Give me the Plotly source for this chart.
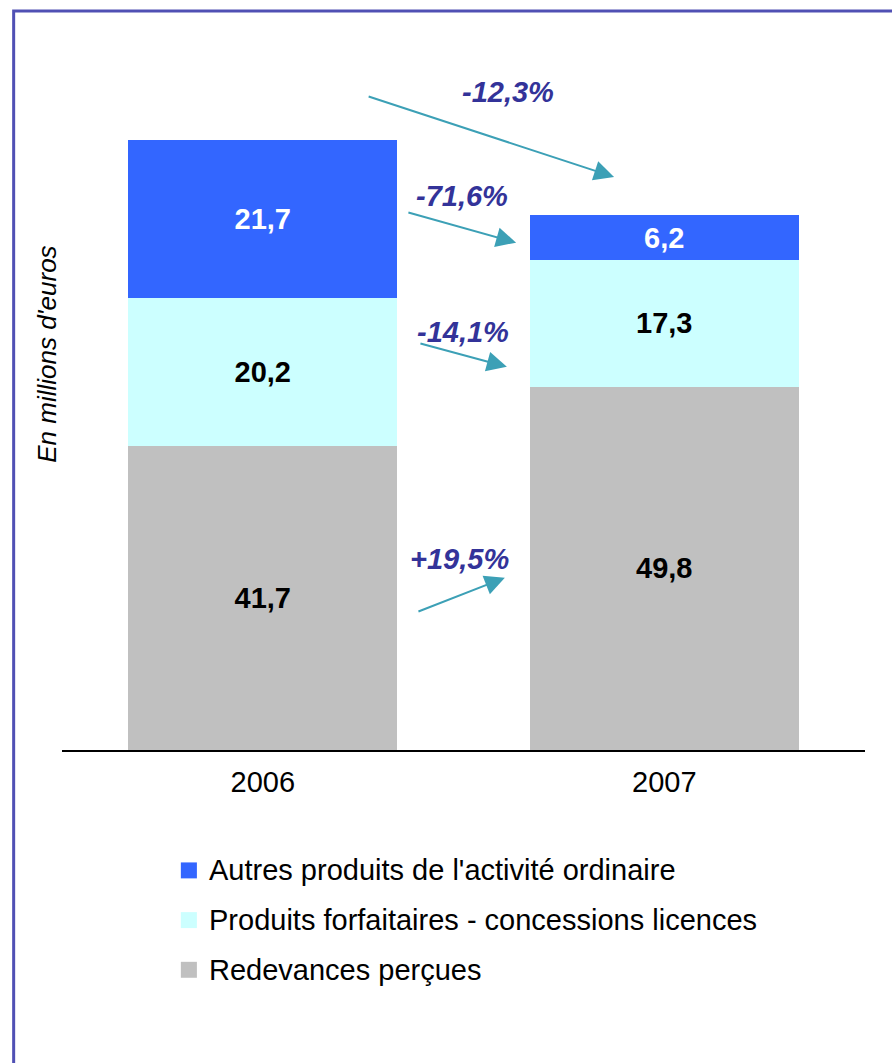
import plotly.graph_objects as go

# --- data -------------------------------------------------------------
years = ["2006", "2007"]
series_names = [
    "Redevances perçues",
    "Produits forfaitaires - concessions licences",
    "Autres produits de l'activité ordinaire",
]
redevances = [41.7, 49.8]
forfaitaires = [20.2, 17.3]
autres = [21.7, 6.2]
totals = [83.6, 73.3]
variation_labels = ["-12,3%", "-71,6%", "-14,1%", "+19,5%"]
y_title = "En millions d'euros"

# --- styling ----------------------------------------------------------
FONT = "Liberation Sans, Arial, sans-serif"
colors = ["#C0C0C0", "#CCFFFF", "#3366FF"]
text_colors = ["#000000", "#000000", "#FFFFFF"]
NAVY = "#333399"
TEAL = "#3CA0B6"
BORDER = "#5050B4"
FS = 29

def fr(v):
    return f"{v:.1f}".replace(".", ",")

fig = go.Figure()
for name, vals, col, tcol in zip(series_names, [redevances, forfaitaires, autres], colors, text_colors):
    fig.add_trace(go.Bar(
        x=years, y=vals, name=name,
        marker=dict(color=col, line=dict(width=0)),
        text=[fr(v) for v in vals],
        textposition="inside", insidetextanchor="middle", textangle=0,
        textfont=dict(family=FONT, size=FS, color=tcol, weight="bold"),
        width=0.67, showlegend=False, hoverinfo="skip",
    ))

annotations = []
# totals above the stacks
for yr, t in zip(years, totals):
    annotations.append(dict(
        x=yr, y=t, xref="x", yref="y", text=f"<b>{fr(t)}</b>", showarrow=False,
        yanchor="middle", yshift=16,
        font=dict(family=FONT, size=FS, color=NAVY),
    ))

# variation arrows (tail -> head) and their labels, in data coordinates
arrows = [
    ((0.260, 89.6), (0.875, 78.5)),
    ((0.359, 73.7), (0.631, 69.5)),
    ((0.389, 55.75), (0.608, 52.5)),
    ((0.384, 18.9), (0.603, 23.6)),
]
label_pos = [(0.611, 90.1), (0.496, 75.9), (0.499, 57.3), (0.489, 26.2)]
for (tail, head), lbl, pos in zip(arrows, variation_labels, label_pos):
    annotations.append(dict(
        x=head[0], y=head[1], ax=tail[0], ay=tail[1],
        xref="x", yref="y", axref="x", ayref="y", text="",
        showarrow=True, arrowhead=2, arrowsize=2, arrowwidth=2, arrowcolor=TEAL,
    ))
    annotations.append(dict(
        x=pos[0], y=pos[1], xref="x", yref="y", text=f"<b><i>{lbl}</i></b>",
        showarrow=False, font=dict(family=FONT, size=FS, color=NAVY),
    ))

# y-axis caption
annotations.append(dict(
    x=-0.0187, y=0.566, xref="paper", yref="paper", text=f"<i>{y_title}</i>",
    xanchor="center", yanchor="middle",
    textangle=-90, showarrow=False, font=dict(family=FONT, size=26, color="#000000"),
))

# legend, drawn manually (top entry = top of stack)
shapes = []
legend_rows = [-0.172, -0.243, -0.314]
for row_y, name, col in zip(legend_rows, series_names[::-1], colors[::-1]):
    shapes.append(dict(
        type="rect", xref="paper", yref="paper",
        x0=0.148, x1=0.168, y0=row_y - 0.0114, y1=row_y + 0.0114,
        fillcolor=col, line=dict(width=0),
    ))
    annotations.append(dict(
        x=0.181, y=row_y, xref="paper", yref="paper", text=name,
        xanchor="left", yanchor="middle", showarrow=False,
        font=dict(family=FONT, size=FS, color="#000000"),
    ))

# frame around the figure
shapes.append(dict(
    type="rect", xref="paper", yref="paper",
    x0=-0.0602, x1=1.2, y0=1.0557, y1=-0.6,
    line=dict(color=BORDER, width=3), fillcolor="rgba(0,0,0,0)", layer="above",
))

fig.update_layout(
    width=892, height=1063,
    margin=dict(l=62, r=27, t=50, b=313),
    barmode="stack", bargap=0.33,
    paper_bgcolor="white", plot_bgcolor="white",
    showlegend=False,
    font=dict(family=FONT, color="#000000"),
    xaxis=dict(
        range=[-0.5, 1.5], showline=True, linecolor="#000000", linewidth=2,
        ticks="", showgrid=False, zeroline=False,
        tickfont=dict(family=FONT, size=FS, color="#000000"),
        ticklabelstandoff=5,
    ),
    yaxis=dict(
        range=[0, 95.9], visible=False, showgrid=False, zeroline=False,
    ),
    annotations=annotations,
    shapes=shapes,
)

fig.write_html("out.html")
